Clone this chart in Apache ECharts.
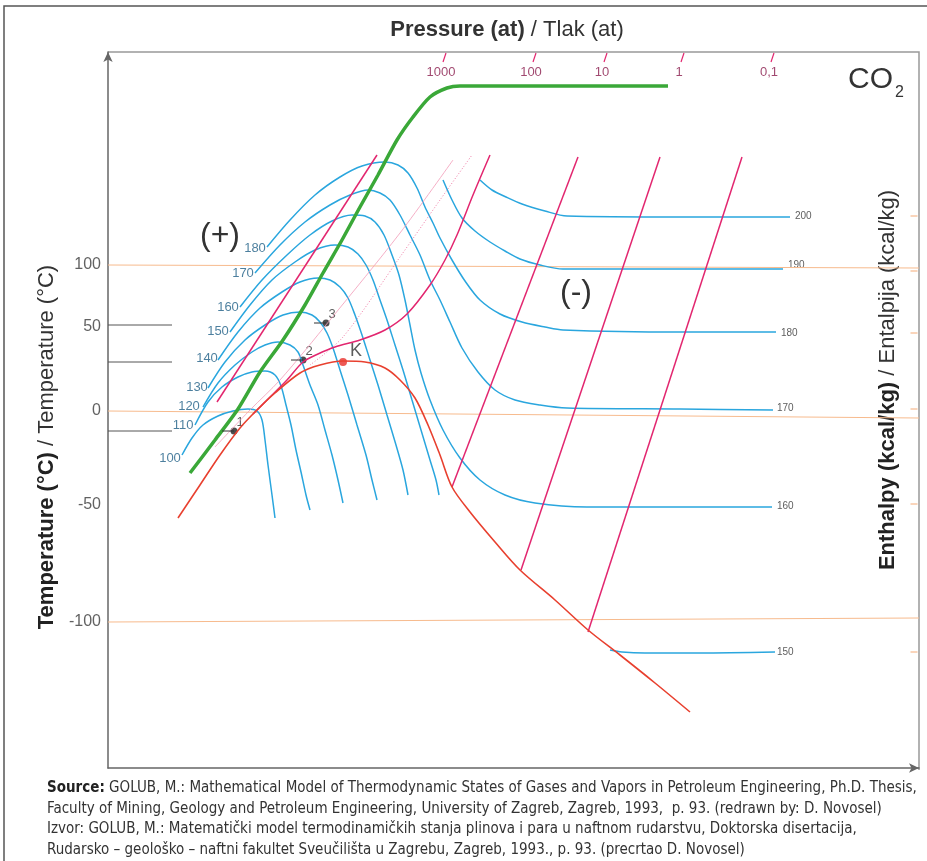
<!DOCTYPE html>
<html>
<head>
<meta charset="utf-8">
<script src="https://cdn.jsdelivr.net/npm/echarts@6/dist/echarts.min.js"></script>
<style>
  html, body { margin: 0; padding: 0; background: #fff; }
  #chart { width: 927px; height: 861px; }
</style>
</head>
<body>
<div id="chart"></div>
<script>
// diagram units: x grows to the right (lower pressure), y grows downward (colder)
// isenthalps (kcal/kg), blue
const h100 = [[182,455],[192,438],[203,425],[218,416],[233,411],[248,409],[257,411],[262,420],[265,440],[268,465],[272,495],[275,518]];
const h110 = [[195,425],[208,402],[222,387],[238,377],[252,372],[265,371],[275,375],[281,386],[286,405],[291,425],[296,450],[301,472],[306,495],[310,510]];
const h120 = [[203,407],[218,383],[235,365],[252,352],[265,345],[278,342],[290,345],[298,352],[303,365],[310,385],[318,405],[325,430],[332,455],[338,480],[343,503]];
const h130 = [[208,388],[225,362],[245,340],[265,325],[283,315],[300,312],[312,315],[320,322],[327,333],[333,348],[340,370],[348,395],[357,425],[366,455],[372,480],[377,500]];
const h140 = [[218,360],[238,332],[260,308],[282,292],[300,282],[318,278],[330,280],[340,287],[348,298],[355,315],[362,335],[370,360],[378,385],[387,415],[396,445],[403,470],[408,495]];
const h150 = [[230,332],[250,305],[272,280],[295,262],[315,250],[335,245],[348,247],[358,254],[366,265],[373,280],[380,300],[387,320],[395,345],[403,370],[412,400],[421,430],[430,460],[436,480],[439,495]];
const h160 = [[240,307],[262,280],[287,255],[310,235],[332,221],[352,215],[365,216],[375,222],[384,235],[392,255],[399,275],[405,300],[410,325],[415,350],[421,373],[430,400],[443,430],[460,458],[480,480],[505,495],[535,503],[587,507],[680,507],[772,507]];
const h170 = [[255,273],[280,245],[305,222],[330,205],[350,195],[368,190],[380,193],[390,200],[400,215],[410,235],[420,255],[430,280],[440,300],[450,322],[462,348],[478,372],[495,390],[515,400],[540,405],[567,408],[680,409],[773,410]];
const h180 = [[267,247],[290,220],[315,195],[340,177],[362,166],[385,162],[398,165],[408,173],[417,188],[425,207],[433,223],[440,238],[452,260],[465,281],[480,300],[500,314],[522,322],[545,327],[563,330],[680,332],[776,332]];
const h190 = [[443,180],[452,200],[462,218],[475,231],[490,242],[505,251],[520,259],[540,265],[563,269],[680,269],[783,269]];
const h200 = [[480,180],[492,190],[506,197],[522,204],[545,211],[567,216],[680,217],[790,217]];
const h150r = [[610,650],[622,652],[645,653],[700,653],[775,652]];

// saturation curve (red), inversion curve (green)
const saturation = [[178,518],[200,485],[220,455],[240,428],[257,410],[275,393],[300,373],[320,365],[343,361],[365,362],[385,368],[400,380],[415,398],[428,425],[440,455],[452,487],[470,512],[495,542],[520,570],[555,600],[588,630],[620,655],[655,683],[690,712]];
const inversion = [[190,473],[215,440],[238,409],[260,372],[283,340],[305,305],[323,273],[342,240],[360,207],[378,175],[397,140],[413,117],[430,97],[447,88],[460,86],[560,86],[668,86]];

// isobars (magenta)
const isobarA = [[217,402],[377,155]];
const isobarC = [[253,414],[270,397],[287,380],[303,362],[318,354],[335,347],[360,340],[385,330],[407,314],[430,285],[445,260],[457,235],[473,195],[490,155]];
const isobarD = [[452,487],[578,157]];
const isobarE = [[521,570],[660,157]];
const isobarF = [[588,632],[742,157]];
const thinPink = [[215,447],[250,410],[280,380],[330,320],[400,233],[453,160]];
const dottedPink = [[310,365],[343,337],[400,257],[440,200],[472,155]];

// state points
const statePoints = [[234,431],[303,360],[326,323]];
const statePointNames = ['1', '2', '3'];
const criticalPoint = [343,362];

// temperature scale (non-linear in the original)
const tempLabels = ['100', '50', '0', '-50', '-100'];
const tempLabelY = [265, 327, 411, 505, 622];
const tempTickY = [150, 265, 279, 292, 309, 327, 338, 352, 366, 381, 394, 411, 450, 474, 493, 505, 523, 546, 572, 597, 622];
const refLines = [[[108,265],[919,268]], [[108,411],[919,418]], [[108,622],[919,618]]];
const guideY = [325, 362, 431];

// pressure scale (at)
const pressureLabels = ['1000', '100', '10', '1', '0,1'];
const pressureX = [445, 535, 606, 683, 773];

// enthalpy labels
const leftNames = ['100','110','120','130','140','150','160','170','180'];
const leftNamePos = [[170,458],[183,425],[189,406],[197,387],[207,358],[218,331],[228,307],[243,273],[255,248]];
const rightNames = ['200','190','180','170','160','150'];
const rightNamePos = [[795,216],[788,265],[781,333],[777,408],[777,506],[777,652]];
const rightTickY = [216, 271, 333, 409, 504, 652];

const BLUE = '#2aa6de';
const MAGENTA = '#e2266f';
const FONT = '"Liberation Sans", Arial, sans-serif';
const NARROW = '"Liberation Sans Narrow", "DejaVu Sans Condensed", sans-serif';

var myChart = echarts.init(document.getElementById('chart'));

function curve(name, data, color, width, extra) {
    return Object.assign({
        name: name,
        type: 'line',
        data: data,
        showSymbol: false,
        smooth: 0.3,
        silent: true,
        lineStyle: { color: color, width: width }
    }, extra || {});
}

const series = [];
refLines.forEach((seg, i) => {
    series.push(curve('ref' + i, seg, '#f7bb8e', 1.2, { smooth: false }));
});
guideY.forEach((y, i) => {
    series.push(curve('guide' + i, [[108, y], [172, y]], '#555', 1, { smooth: false }));
});
[h100, h110, h120, h130, h140, h150, h160, h170, h180, h190, h200, h150r].forEach((h, i) => {
    series.push(curve('h' + i, h, BLUE, 1.5));
});
series.push(curve('thin', thinPink, '#f29ab8', 0.8));
series.push(curve('dotted', dottedPink, '#f07aa5', 1, { lineStyle: { color: '#f07aa5', width: 1, type: [1, 2] } }));
[isobarA, isobarC, isobarD, isobarE, isobarF].forEach((p, i) => {
    series.push(curve('p' + i, p, MAGENTA, 1.5));
});
pressureX.forEach((x, i) => {
    series.push(curve('ptick' + i, [[x - 2, 62], [x + 1, 53]], MAGENTA, 1.2, { smooth: false }));
});
series.push(curve('inversion', inversion, '#3aa838', 3.5, { smooth: 0.25 }));
series.push(curve('saturation', saturation, '#e8402f', 1.6));
statePoints.forEach((p, i) => {
    series.push(curve('tick' + i, [[p[0] - 12, p[1]], p], '#333', 1, { smooth: false }));
});

// point markers and text labels
series.push({
    type: 'scatter',
    silent: true,
    symbolSize: 7,
    itemStyle: { color: '#222' },
    data: statePoints.map((p, i) => ({ value: p, name: statePointNames[i] })),
    label: { show: true, position: [6, -12], formatter: '{b}', fontSize: 13, color: '#333', fontFamily: FONT }
});
series.push({
    type: 'scatter',
    silent: true,
    symbolSize: 8,
    itemStyle: { color: '#e8302a' },
    data: [{ value: criticalPoint, name: 'K' }],
    label: { show: true, position: [11, -16], formatter: '{b}', fontSize: 18, color: '#333', fontFamily: FONT }
});
series.push({
    type: 'scatter',
    silent: true,
    symbolSize: 0,
    data: leftNamePos.map((p, i) => ({ value: p, name: leftNames[i] })),
    label: { show: true, position: 'inside', formatter: '{b}', fontSize: 13, color: '#1f5f86', fontFamily: FONT }
});
series.push({
    type: 'scatter',
    silent: true,
    symbolSize: 0,
    data: rightNamePos.map((p, i) => ({ value: p, name: rightNames[i] })),
    label: { show: true, position: 'right', distance: 0, formatter: '{b}', fontSize: 10, color: '#333', fontFamily: FONT }
});
series.push({
    type: 'scatter',
    silent: true,
    symbolSize: 0,
    data: tempLabelY.map((y, i) => ({ value: [108, y], name: tempLabels[i] })),
    label: { show: true, position: 'left', distance: 7, formatter: '{b}', fontSize: 16, color: '#3a3a3a', fontFamily: FONT }
});
series.push({
    type: 'scatter',
    silent: true,
    symbol: 'rect',
    symbolSize: [7, 1.2],
    itemStyle: { color: '#f4a670' },
    data: tempTickY.map(y => [106, y])
});
series.push({
    type: 'scatter',
    silent: true,
    symbol: 'rect',
    symbolSize: [7, 1.2],
    itemStyle: { color: '#f4a670' },
    data: rightTickY.map(y => [914, y])
});
series.push({
    type: 'scatter',
    silent: true,
    symbolSize: 0,
    data: pressureX.map((x, i) => ({ value: [x - 4, 72], name: pressureLabels[i] })),
    label: { show: true, position: 'inside', formatter: '{b}', fontSize: 13, color: '#8a1c4c', fontFamily: FONT }
});

var option = {
    animation: false,
    backgroundColor: '#fff',
    grid: { left: 108, top: 52, width: 811, height: 716 },
    xAxis: {
        type: 'value', min: 108, max: 919,
        axisLine: { show: true, symbol: ['none', 'arrow'], symbolSize: [7, 10], lineStyle: { color: '#666', width: 1.5 } },
        axisTick: { show: false }, axisLabel: { show: false }, splitLine: { show: false }
    },
    yAxis: {
        type: 'value', min: 52, max: 768, inverse: true,
        axisLine: { show: true, symbol: ['none', 'arrow'], symbolSize: [7, 10], lineStyle: { color: '#666', width: 1.5 } },
        axisTick: { show: false }, axisLabel: { show: false }, splitLine: { show: false }
    },
    graphic: [
        { type: 'polyline', shape: { points: [[4, 861], [4, 6], [927, 6]] }, style: { stroke: '#555', lineWidth: 1.5, fill: null }, silent: true },
        { type: 'polyline', shape: { points: [[108, 52], [919, 52], [919, 770]] }, style: { stroke: '#999', lineWidth: 1.5, fill: null }, silent: true },
        { type: 'text', x: 507, y: 30, silent: true,
          style: { text: '{b|Pressure (at)} / Tlak (at)', align: 'center', verticalAlign: 'middle', fontSize: 22, fontFamily: FONT, fill: '#333',
                   rich: { b: { fontWeight: 'bold', fontSize: 22, fontFamily: FONT, fill: '#333' } } } },
        { type: 'text', x: 47, y: 447, rotation: Math.PI / 2, silent: true,
          style: { text: '{b|Temperature (°C)} / Temperature (°C)', align: 'center', verticalAlign: 'middle', fontSize: 22, fontFamily: FONT, fill: '#333',
                   rich: { b: { fontWeight: 'bold', fontSize: 22, fontFamily: FONT, fill: '#222' } } } },
        { type: 'text', x: 888, y: 380, rotation: Math.PI / 2, silent: true,
          style: { text: '{b|Enthalpy (kcal/kg)} / Entalpija (kcal/kg)', align: 'center', verticalAlign: 'middle', fontSize: 22, fontFamily: FONT, fill: '#333',
                   rich: { b: { fontWeight: 'bold', fontSize: 22, fontFamily: FONT, fill: '#222' } } } },
        { type: 'text', x: 220, y: 236, silent: true, style: { text: '(+)', align: 'center', verticalAlign: 'middle', fontSize: 32, fontFamily: FONT, fill: '#333' } },
        { type: 'text', x: 576, y: 293, silent: true, style: { text: '(-)', align: 'center', verticalAlign: 'middle', fontSize: 32, fontFamily: FONT, fill: '#333' } },
        { type: 'text', x: 848, y: 80, silent: true, style: { text: 'CO', align: 'left', verticalAlign: 'middle', fontSize: 30, fontFamily: FONT, fill: '#333' } },
        { type: 'text', x: 895, y: 93, silent: true, style: { text: '2', align: 'left', verticalAlign: 'middle', fontSize: 16, fontFamily: FONT, fill: '#333' } },
        { type: 'text', x: 47, y: 778, silent: true,
          style: { text: '{b|Source:} GOLUB, M.: Mathematical Model of Thermodynamic States of Gases and Vapors in Petroleum Engineering, Ph.D. Thesis,\n' +
                         'Faculty of Mining, Geology and Petroleum Engineering, University of Zagreb, Zagreb, 1993,  p. 93. (redrawn by: D. Novosel)\n' +
                         'Izvor: GOLUB, M.: Matematički model termodinamičkih stanja plinova i para u naftnom rudarstvu, Doktorska disertacija,\n' +
                         'Rudarsko – geološko – naftni fakultet Sveučilišta u Zagrebu, Zagreb, 1993., p. 93. (precrtao D. Novosel)',
                   fontSize: 15, lineHeight: 20.5, fontFamily: NARROW, fill: '#333',
                   rich: { b: { fontWeight: 'bold', fontSize: 15, lineHeight: 20.5, fontFamily: NARROW, fill: '#222' } } } }
    ],
    series: series
};

myChart.setOption(option);
</script>
</body>
</html>
